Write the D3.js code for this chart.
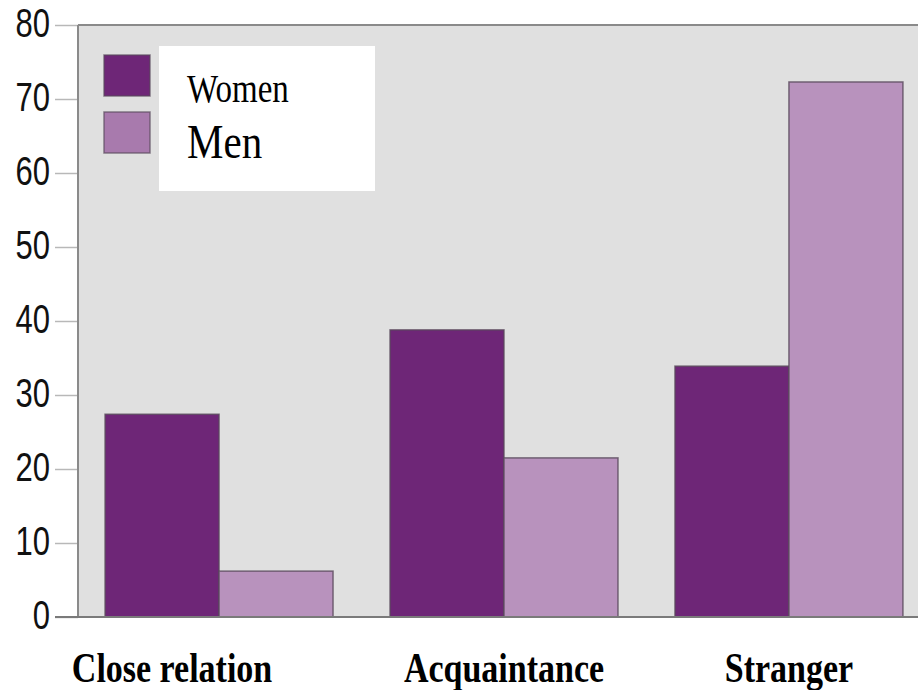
<!DOCTYPE html>
<html>
<head>
<meta charset="utf-8">
<script src="https://cdn.jsdelivr.net/npm/d3@7"></script>
<style>
  html, body { margin: 0; padding: 0; background: #fff; }
  svg { display: block; }
</style>
</head>
<body>
<div id="chart"></div>
<script>
// data
const categories = ["Close relation", "Acquaintance", "Stranger"];
const seriesNames = ["Women", "Men"];
const women = [27.4, 38.8, 33.9];
const men = [6.2, 21.5, 72.3];
const yTicks = [0, 10, 20, 30, 40, 50, 60, 70, 80];

const W = 918, H = 690;
const plotLeft = 78, plotTop = 25, plotBottom = 617;
const colors = { Women: "#6e2677", Men: "#b892bd" };
// the first category label sits left of its group in the original
const labelDx = [-47, 0, 0];

const svg = d3.select("#chart").append("svg")
  .attr("width", W).attr("height", H);

const x0 = d3.scaleBand().domain(categories)
  .range([plotLeft, 930]).paddingInner(0.2).paddingOuter(0.095);
const x1 = d3.scaleBand().domain(seriesNames).range([0, x0.bandwidth()]);
const y = d3.scaleLinear().domain([0, 80]).range([plotBottom, plotTop]);

// plot background
svg.append("rect")
  .attr("x", plotLeft).attr("y", plotTop)
  .attr("width", W - plotLeft).attr("height", plotBottom - plotTop)
  .attr("fill", "#e0e0e0");

// y axis
const yAxis = svg.append("g")
  .attr("transform", `translate(${plotLeft},0)`)
  .call(d3.axisLeft(y).tickValues(yTicks).tickSize(23).tickPadding(5));
yAxis.select(".domain").remove();
yAxis.selectAll(".tick line").attr("stroke", "#b8b8b8").attr("stroke-width", 1.5);
yAxis.selectAll(".tick text")
  .attr("fill", "#111")
  .attr("font-family", "Liberation Sans, Arial, sans-serif")
  .attr("font-size", 31)
  .attr("dy", null)
  .attr("transform", "scale(1,1.3)")
  .attr("y", 11 / 1.3);

// frame lines
svg.append("line").attr("x1", plotLeft).attr("x2", W).attr("y1", plotTop).attr("y2", plotTop)
  .attr("stroke", "#8a8a8a").attr("stroke-width", 2);
svg.append("line").attr("x1", plotLeft).attr("x2", plotLeft).attr("y1", plotTop).attr("y2", plotBottom)
  .attr("stroke", "#8a8a8a").attr("stroke-width", 2);

// bars
const groups = svg.append("g").selectAll("g")
  .data(categories)
  .join("g")
  .attr("transform", d => `translate(${x0(d)},0)`);

groups.selectAll("rect")
  .data((d, i) => [
    { key: "Women", value: women[i] },
    { key: "Men", value: men[i] }
  ])
  .join("rect")
  .attr("x", d => x1(d.key))
  .attr("y", d => y(d.value))
  .attr("width", x1.bandwidth())
  .attr("height", d => y(0) - y(d.value))
  .attr("fill", d => colors[d.key])
  .attr("stroke", "#5a4a5c")
  .attr("stroke-opacity", 0.8)
  .attr("stroke-width", 1.5);

// baseline
svg.append("line").attr("x1", 55).attr("x2", W).attr("y1", plotBottom).attr("y2", plotBottom)
  .attr("stroke", "#7a7a7a").attr("stroke-width", 2);

// category labels
svg.append("g").selectAll("text")
  .data(categories)
  .join("text")
  .attr("text-anchor", "middle")
  .attr("font-family", "Liberation Serif, Times New Roman, serif")
  .attr("font-weight", "bold")
  .attr("font-size", 34)
  .attr("transform", (d, i) => `translate(${x0(d) + x0.bandwidth() / 2 + labelDx[i]},682) scale(1,1.25)`)
  .text(d => d);

// legend
const legend = svg.append("g");
legend.append("rect")
  .attr("x", 159).attr("y", 46).attr("width", 216).attr("height", 145)
  .attr("fill", "#fff");
legend.selectAll(".sw")
  .data(seriesNames)
  .join("rect")
  .attr("class", "sw")
  .attr("x", 104).attr("y", (d, i) => 55 + i * 57)
  .attr("width", 46).attr("height", 41)
  .attr("fill", d => d === "Men" ? "#a87aad" : colors[d])
  .attr("stroke", "#5a4a5c").attr("stroke-opacity", 0.7).attr("stroke-width", 1.5);
legend.selectAll(".lt")
  .data(seriesNames)
  .join("text")
  .attr("class", "lt")
  .attr("font-family", "Liberation Serif, Times New Roman, serif")
  .attr("font-size", (d, i) => i === 0 ? 33 : 41)
  .attr("transform", (d, i) => `translate(187,${i === 0 ? 102 : 158}) scale(1,1.2)`)
  .text(d => d);
</script>
</body>
</html>
